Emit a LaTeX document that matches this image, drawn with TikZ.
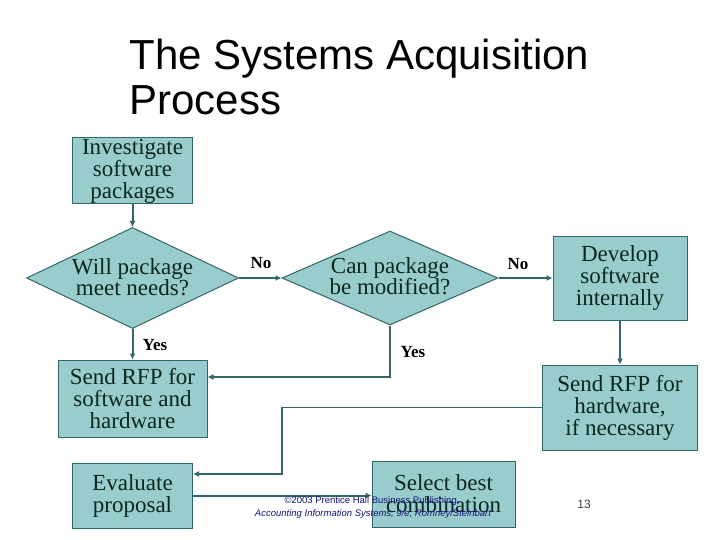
\documentclass[tikz,border=0pt]{standalone}
\usepackage{fontspec}
\setmainfont{Liberation Serif}
\newfontfamily\sansf{Liberation Sans}
\usetikzlibrary{shapes.geometric,arrows.meta}
\definecolor{boxfill}{RGB}{153,204,204}
\definecolor{edgec}{RGB}{51,102,102}
\definecolor{ink}{RGB}{10,40,30}
\definecolor{foot}{RGB}{20,20,120}
\begin{document}
\begin{tikzpicture}[x=1pt,y=-1pt,
 box/.style={draw=edgec,fill=boxfill,line width=1pt,inner sep=0pt,text=ink,font=\fontsize{23}{22}\selectfont,align=center},
 dia/.style={draw=edgec,fill=boxfill,line width=1pt,diamond,inner sep=0pt},
 diatext/.style={text=ink,font=\fontsize{23}{21.5}\selectfont,align=center},
 conn/.style={draw=edgec,line width=2pt,-{Latex[length=6pt,width=6pt]}},
 thinconn/.style={draw=edgec,line width=1.3pt,-{Latex[length=6pt,width=6pt]}},
 lab/.style={font=\bfseries\fontsize{17}{17}\selectfont,text=black}]
\useasboundingbox (0,0) rectangle (720,540);
\fill[white] (0,0) rectangle (720,540);
% title
\node[anchor=base west, font=\sansf\fontsize{42}{45}\selectfont] (t1) at (126,70) {The Systems Acquisition};
\node[anchor=base west, font=\sansf\fontsize{42}{45}\selectfont] (t2) at (126,115) {Process};
% boxes
\node[box, minimum width=120, minimum height=66] (inv) at (132.5,171) {Investigate\\software\\packages};
\node[dia, minimum width=212, minimum height=101] (will) at (132.5,278) {};
\node[diatext] (willt) at (132.5,277) {Will package\\meet needs?};
\node[dia, minimum width=216, minimum height=94] (can) at (390,278) {};
\node[diatext] (cant) at (390,276) {Can package\\be modified?};
\node[box, minimum width=134, minimum height=84] (dev) at (620,278) {Develop\\software\\internally};
\node[box, minimum width=155, minimum height=85] (hw) at (620,407.5) {Send RFP for\\hardware,\\if necessary};
\node[box, minimum width=149, minimum height=77] (sw) at (132.5,398.5) {Send RFP for\\software and\\hardware};
\node[box, minimum width=120, minimum height=65] (eval) at (132.5,495.5) {Evaluate\\proposal};
\node[box, minimum width=143, minimum height=66] (sel) at (443.5,494) {Select best\\combination};
% connectors
\draw[conn] (inv.south) -- (will.north);
\draw[conn] (will.east) -- (can.west);
\draw[conn] (can.east) -- (dev.west);
\draw[conn] (dev.south) -- (hw.north);
\draw[conn] (will.south) -- (sw.north);
\coordinate (j1) at (390,377);
\draw[conn] (can.south) -- (j1) -- (j1 -| sw.east);
\coordinate (j2) at (282,407.5);
\coordinate (j3) at (282,474);
\draw[thinconn] (hw.west) -- (j2) -- (j3) -- (j3 -| eval.east);
\draw[conn] (eval.east) -- (eval.east -| sel.west);
% labels
\node[lab] (no1) at (261,263) {No};
\node[lab] (no2) at (518,264) {No};
\node[lab] (yes1) at (155,345) {Yes};
\node[lab] (yes2) at (413,352) {Yes};
% footer
\node[anchor=base, font=\sansf\fontsize{9.5}{10}\selectfont, text=foot] (f1) at (372,503) {\textcopyright2003 Prentice Hall Business Publishing,};
\node[anchor=base, font=\sansf\itshape\fontsize{9.5}{10}\selectfont, text=foot] (f2) at (373,516) {Accounting Information Systems, 9/e, Romney/Steinbart};
\node[font=\sansf\fontsize{12}{12}\selectfont, text=black!75] (pg) at (584,504) {13};
\end{tikzpicture}
\end{document}
